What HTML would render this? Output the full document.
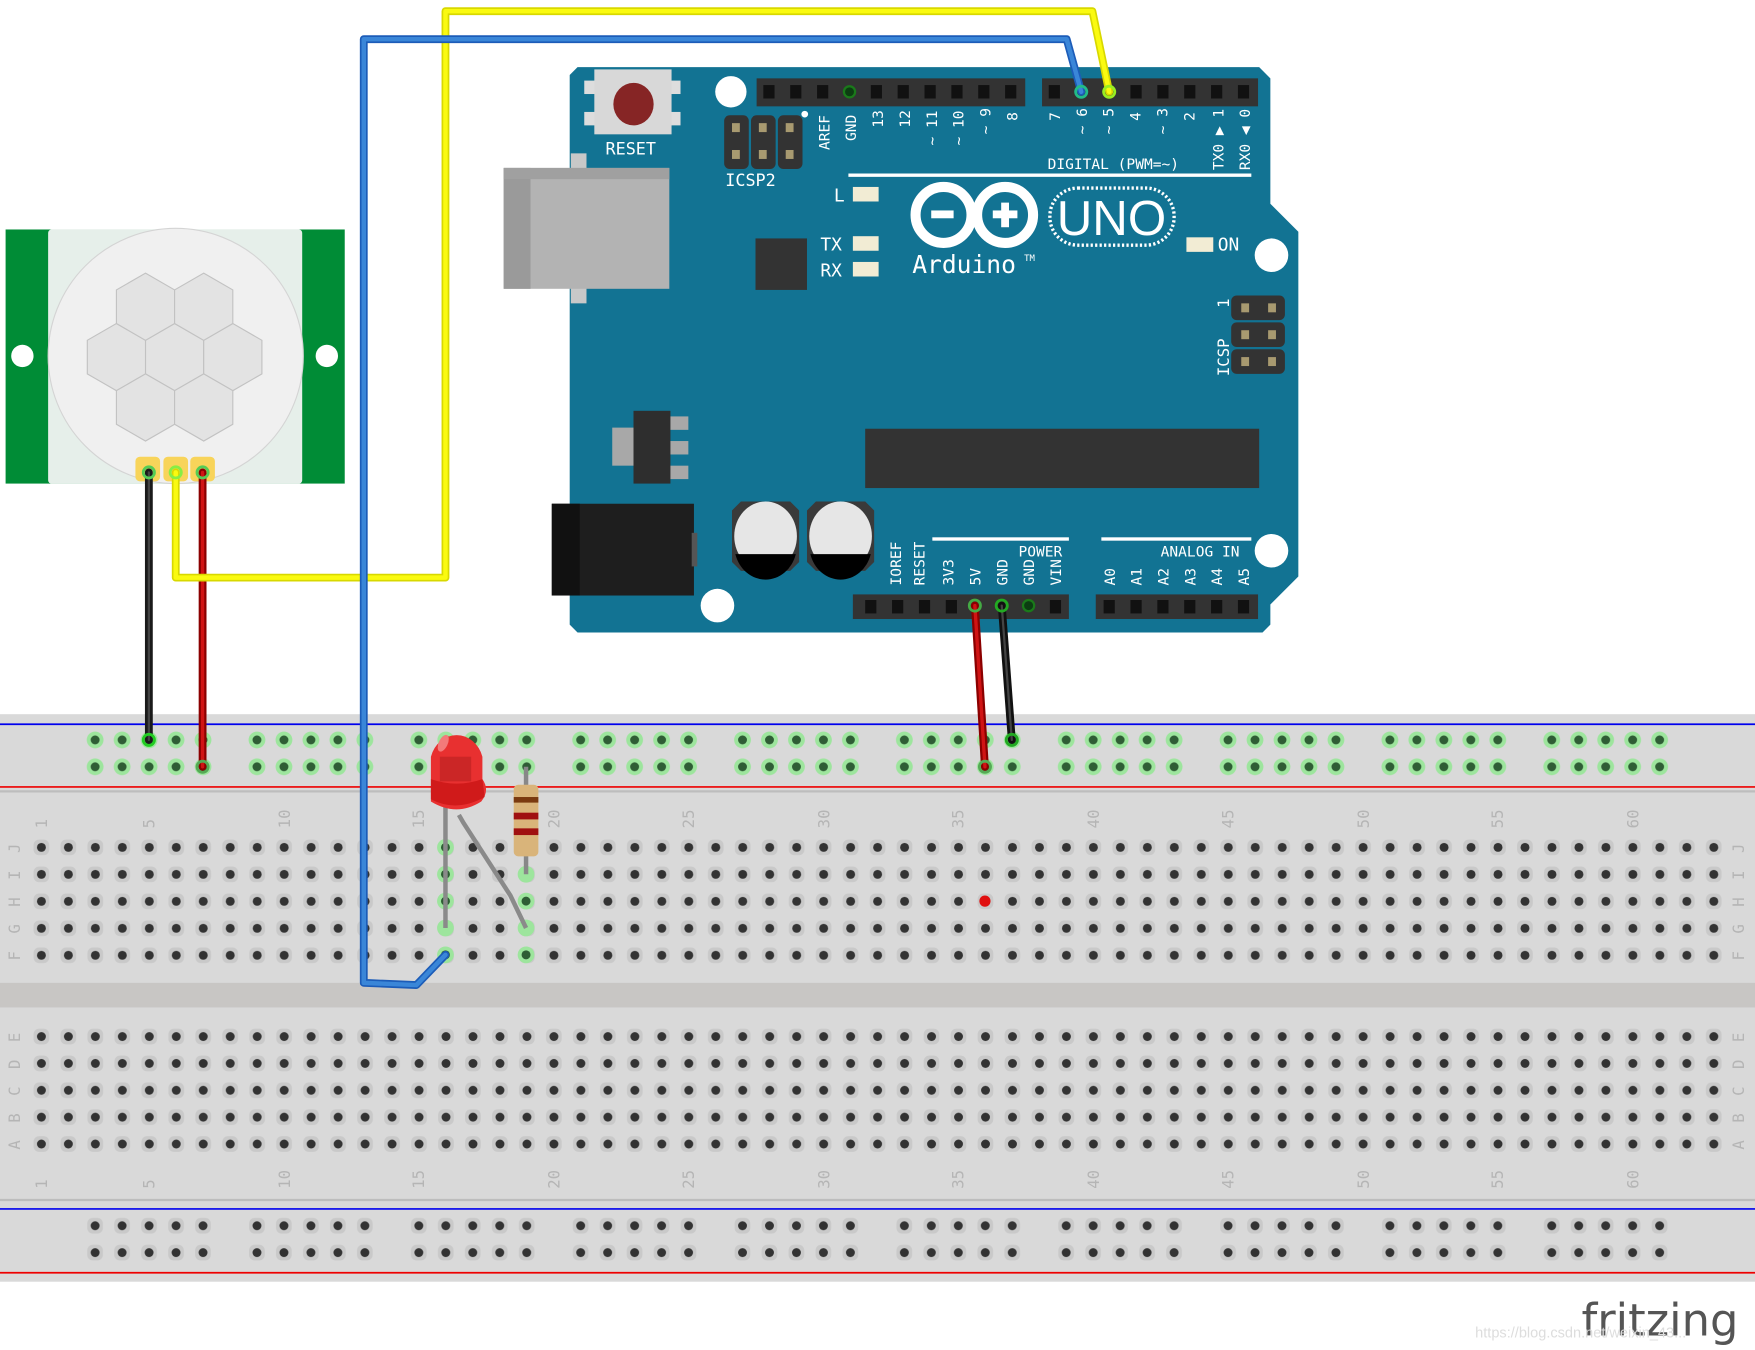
<!DOCTYPE html>
<html><head><meta charset="utf-8"><style>
html,body{margin:0;padding:0;background:#fff}
svg{display:block}
text{font-family:"DejaVu Sans Mono","Liberation Mono",monospace}
</style></head><body>
<svg width="1755" height="1350" viewBox="0 0 1568 1206" preserveAspectRatio="none" xmlns="http://www.w3.org/2000/svg">
<defs>
<pattern id="hole" patternUnits="userSpaceOnUse" x="24.95" y="745" width="24.1" height="24.1">
<rect x="5" y="5" width="14" height="14" rx="5" fill="#c9c9c9"/><circle cx="12.05" cy="12" r="4" fill="#333"/>
</pattern>
<pattern id="hole2" patternUnits="userSpaceOnUse" x="24.95" y="914" width="24.1" height="24">
<rect x="5" y="5" width="14" height="14" rx="5" fill="#c9c9c9"/><circle cx="12.05" cy="12" r="4" fill="#333"/>
</pattern>
<pattern id="railg" patternUnits="userSpaceOnUse" x="72.95" y="649" width="144.6" height="24">
<g fill="#9de59d"><circle cx="12.05" cy="12" r="7.5"/><circle cx="36.15" cy="12" r="7.5"/><circle cx="60.25" cy="12" r="7.5"/><circle cx="84.35" cy="12" r="7.5"/><circle cx="108.45" cy="12" r="7.5"/></g>
<g fill="#2f5d35"><circle cx="12.05" cy="12" r="4"/><circle cx="36.15" cy="12" r="4"/><circle cx="60.25" cy="12" r="4"/><circle cx="84.35" cy="12" r="4"/><circle cx="108.45" cy="12" r="4"/></g>
</pattern>
<pattern id="raild" patternUnits="userSpaceOnUse" x="72.95" y="1083" width="144.6" height="24">
<g fill="#c9c9c9"><rect x="5" y="5" width="14" height="14" rx="5"/><rect x="29.1" y="5" width="14" height="14" rx="5"/><rect x="53.2" y="5" width="14" height="14" rx="5"/><rect x="77.3" y="5" width="14" height="14" rx="5"/><rect x="101.4" y="5" width="14" height="14" rx="5"/></g>
<g fill="#333"><circle cx="12.05" cy="12" r="4"/><circle cx="36.15" cy="12" r="4"/><circle cx="60.25" cy="12" r="4"/><circle cx="84.35" cy="12" r="4"/><circle cx="108.45" cy="12" r="4"/></g>
</pattern>
</defs>

<rect x="0" y="638" width="1568" height="507" fill="#d9d9d9"/>
<rect x="0" y="878" width="1568" height="22" fill="#c8c6c4"/>
<line x1="0" y1="647" x2="1568" y2="647" stroke="#0000ee" stroke-width="1.5"/>
<line x1="0" y1="703" x2="1568" y2="703" stroke="#ee0000" stroke-width="1.5"/>
<line x1="0" y1="707" x2="1568" y2="707" stroke="#bdbdbd" stroke-width="2"/>
<line x1="0" y1="1072" x2="1568" y2="1072" stroke="#bdbdbd" stroke-width="2"/>
<line x1="0" y1="1080" x2="1568" y2="1080" stroke="#0000ee" stroke-width="1.5"/>
<line x1="0" y1="1137" x2="1568" y2="1137" stroke="#ee0000" stroke-width="1.5"/>
<rect x="25" y="745" width="1518" height="120" fill="url(#hole)"/>
<rect x="25" y="914" width="1518" height="120" fill="url(#hole2)"/>
<rect x="73" y="649" width="1446" height="48" fill="url(#railg)"/>
<rect x="73" y="1083" width="1446" height="48" fill="url(#raild)"/>
<g font-size="14" fill="#b5b5b5">
<g id="nums">
<text transform="translate(42,740) rotate(-90)">1</text>
<text transform="translate(138,740) rotate(-90)">5</text>
<text transform="translate(259,740) rotate(-90)">10</text>
<text transform="translate(379,740) rotate(-90)">15</text>
<text transform="translate(500,740) rotate(-90)">20</text>
<text transform="translate(620,740) rotate(-90)">25</text>
<text transform="translate(741,740) rotate(-90)">30</text>
<text transform="translate(861,740) rotate(-90)">35</text>
<text transform="translate(982,740) rotate(-90)">40</text>
<text transform="translate(1102,740) rotate(-90)">45</text>
<text transform="translate(1223,740) rotate(-90)">50</text>
<text transform="translate(1343,740) rotate(-90)">55</text>
<text transform="translate(1464,740) rotate(-90)">60</text>
</g>
<use href="#nums" y="322"/>
<g id="let1">
<text transform="translate(18,762) rotate(-90)">J</text>
<text transform="translate(18,786) rotate(-90)">I</text>
<text transform="translate(18,810) rotate(-90)">H</text>
<text transform="translate(18,834) rotate(-90)">G</text>
<text transform="translate(18,858) rotate(-90)">F</text>
<text transform="translate(18,931) rotate(-90)">E</text>
<text transform="translate(18,955) rotate(-90)">D</text>
<text transform="translate(18,979) rotate(-90)">C</text>
<text transform="translate(18,1003) rotate(-90)">B</text>
<text transform="translate(18,1027) rotate(-90)">A</text>
</g>
<use href="#let1" x="1540"/>
</g>
<g fill="#9de59d"><circle cx="398" cy="757" r="7.5"/><circle cx="398" cy="781" r="7.5"/><circle cx="398" cy="805" r="7.5"/><circle cx="398" cy="829" r="7.5"/><circle cx="398" cy="853" r="7.5"/><circle cx="470" cy="781" r="7.5"/><circle cx="470" cy="805" r="7.5"/><circle cx="470" cy="829" r="7.5"/><circle cx="470" cy="853" r="7.5"/></g>
<g fill="#2f5d35"><circle cx="398" cy="757" r="4"/><circle cx="398" cy="781" r="4"/><circle cx="398" cy="805" r="4"/><circle cx="398" cy="853" r="4"/><circle cx="470" cy="805" r="4"/><circle cx="470" cy="853" r="4"/></g>
<circle cx="880" cy="805" r="5" fill="#e01010"/>

<path d="M516,60 H1125 L1135,70 V182 L1160,207 V515 L1135,540 V558 L1128,565 H516 L509,558 V67 Z" fill="#127393"/>
<rect x="522" y="72" width="86" height="12" fill="#ddd"/><rect x="522" y="100" width="86" height="12" fill="#ddd"/>
<rect x="531" y="62" width="69" height="58" fill="#d8d8d8"/>
<ellipse cx="566" cy="93" rx="18" ry="19" fill="#862525"/>
<text x="541" y="138" font-size="15" fill="#fff">RESET</text>
<g fill="#fff"><circle cx="653" cy="82" r="14"/><circle cx="1136" cy="228" r="15"/><circle cx="1136" cy="492" r="15"/><circle cx="641" cy="541" r="15"/></g>
<rect x="676" y="70" width="240" height="25" fill="#333"/>
<rect x="931" y="70" width="193" height="25" fill="#333"/>
<g fill="#111">
<rect x="682" y="76" width="10" height="12"/><rect x="706" y="76" width="10" height="12"/><rect x="730" y="76" width="10" height="12"/><rect x="778" y="76" width="10" height="12"/><rect x="802" y="76" width="10" height="12"/><rect x="826" y="76" width="10" height="12"/><rect x="850" y="76" width="10" height="12"/><rect x="874" y="76" width="10" height="12"/><rect x="898" y="76" width="10" height="12"/>
<rect x="937" y="76" width="10" height="12"/><rect x="1010" y="76" width="10" height="12"/><rect x="1034" y="76" width="10" height="12"/><rect x="1058" y="76" width="10" height="12"/><rect x="1082" y="76" width="10" height="12"/><rect x="1106" y="76" width="10" height="12"/>
</g>
<circle cx="759" cy="82" r="5" fill="#0c3d12" stroke="#1a7a1a" stroke-width="2"/>
<rect x="647" y="103" width="22" height="48" rx="5" fill="#333"/><rect x="671" y="103" width="22" height="48" rx="5" fill="#333"/><rect x="695" y="103" width="22" height="48" rx="5" fill="#333"/>
<g fill="#a89a70"><rect x="654" y="110" width="7" height="8"/><rect x="678" y="110" width="7" height="8"/><rect x="702" y="110" width="7" height="8"/><rect x="654" y="134" width="7" height="8"/><rect x="678" y="134" width="7" height="8"/><rect x="702" y="134" width="7" height="8"/></g>
<circle cx="719" cy="102" r="3" fill="#fff"/>
<text x="648" y="166" font-size="15" fill="#fff">ICSP2</text>
<g font-size="13" fill="#fff">
<text transform="translate(741,134) rotate(-90)">AREF</text>
<text transform="translate(765,126) rotate(-90)">GND</text>
<text transform="translate(789,114) rotate(-90)">13</text>
<text transform="translate(813,114) rotate(-90)">12</text>
<text transform="translate(837,130) rotate(-90)">~ 11</text>
<text transform="translate(861,130) rotate(-90)">~ 10</text>
<text transform="translate(885,120) rotate(-90)">~ 9</text>
<text transform="translate(909,108) rotate(-90)">8</text>
<text transform="translate(947,108) rotate(-90)">7</text>
<text transform="translate(971,120) rotate(-90)">~ 6</text>
<text transform="translate(995,120) rotate(-90)">~ 5</text>
<text transform="translate(1019,108) rotate(-90)">4</text>
<text transform="translate(1043,120) rotate(-90)">~ 3</text>
<text transform="translate(1067,108) rotate(-90)">2</text>
<text transform="translate(1093,152) rotate(-90)">TX0 ▶ 1</text>
<text transform="translate(1117,152) rotate(-90)">RX0 ◀ 0</text>
</g>
<text x="936" y="151" font-size="13" fill="#fff">DIGITAL (PWM=~)</text>
<rect x="758" y="155" width="360" height="3" fill="#fff"/>
<rect x="510" y="137" width="14" height="134" fill="#c8c8c8"/>
<rect x="450" y="150" width="148" height="108" fill="#b3b3b3"/>
<rect x="450" y="150" width="24" height="108" fill="#9a9a9a"/>
<rect x="450" y="150" width="148" height="10" fill="#a0a0a0"/>
<rect x="675" y="213" width="46" height="46" fill="#333"/>
<g fill="#f2ecd4"><rect x="762" y="167" width="23" height="13"/><rect x="762" y="211" width="23" height="13"/><rect x="762" y="234" width="23" height="13"/><rect x="1060" y="212" width="24" height="13"/></g>
<g font-size="16" fill="#fff"><text x="745" y="180">L</text><text x="733" y="224">TX</text><text x="733" y="247">RX</text><text x="1088" y="224">ON</text></g>
<g stroke="#fff" stroke-width="9" fill="none"><circle cx="843" cy="192" r="25"/><circle cx="898" cy="192" r="25"/></g>
<rect x="832" y="188" width="20" height="7" fill="#fff"/>
<rect x="887" y="188" width="22" height="7" fill="#fff"/><rect x="894.5" y="181" width="7" height="22" fill="#fff"/>
<rect x="938" y="168" width="111" height="51" rx="25" fill="none" stroke="#fff" stroke-width="3" stroke-dasharray="2 2"/>
<text x="993" y="210" font-size="44" fill="#fff" text-anchor="middle" style="font-family:'Liberation Sans',sans-serif">UNO</text>
<text x="815" y="244" font-size="22" fill="#fff">Arduino</text><text x="915" y="233" font-size="8" fill="#fff">TM</text>
<rect x="1100" y="264" width="48" height="22" rx="5" fill="#333"/><rect x="1100" y="288" width="48" height="22" rx="5" fill="#333"/><rect x="1100" y="312" width="48" height="22" rx="5" fill="#333"/>
<g fill="#a89a70"><rect x="1109" y="271" width="7" height="8"/><rect x="1133" y="271" width="7" height="8"/><rect x="1109" y="295" width="7" height="8"/><rect x="1133" y="295" width="7" height="8"/><rect x="1109" y="319" width="7" height="8"/><rect x="1133" y="319" width="7" height="8"/></g>
<text transform="translate(1098,275) rotate(-90)" font-size="14" fill="#fff">1</text>
<text transform="translate(1098,336) rotate(-90)" font-size="14" fill="#fff">ICSP</text>
<rect x="547" y="382" width="20" height="34" fill="#a8a8a8"/>
<rect x="598" y="372" width="17" height="12" fill="#a8a8a8"/><rect x="598" y="394" width="17" height="12" fill="#a8a8a8"/><rect x="598" y="416" width="17" height="12" fill="#a8a8a8"/>
<rect x="566" y="367" width="33" height="65" fill="#2e2e2e"/>
<rect x="773" y="383" width="352" height="53" fill="#333"/>
<rect x="493" y="450" width="127" height="82" fill="#1e1e1e"/>
<rect x="493" y="450" width="25" height="82" fill="#111"/>
<rect x="618" y="476" width="5" height="30" fill="#555"/>
<g>
<path d="M662,448 H706 L714,456 V502 L706,510 H662 L654,502 V456 Z" fill="#3a3a3a"/>
<ellipse cx="684" cy="479" rx="28" ry="31" fill="#e6e6e6"/>
<path d="M657,495 H711 A28,31 0 0 1 657,495 Z" fill="#000"/>
<path d="M729,448 H773 L781,456 V502 L773,510 H729 L721,502 V456 Z" fill="#3a3a3a"/>
<ellipse cx="751" cy="479" rx="28" ry="31" fill="#e6e6e6"/>
<path d="M724,495 H778 A28,31 0 0 1 724,495 Z" fill="#000"/>
</g>
<rect x="762" y="531" width="193" height="22" fill="#333"/>
<rect x="979" y="531" width="145" height="22" fill="#333"/>
<g fill="#111">
<rect x="797" y="536" width="10" height="12"/><rect x="821" y="536" width="10" height="12"/><rect x="845" y="536" width="10" height="12"/><rect x="773" y="536" width="10" height="12"/><rect x="938" y="536" width="10" height="12"/>
<rect x="986" y="536" width="10" height="12"/><rect x="1010" y="536" width="10" height="12"/><rect x="1034" y="536" width="10" height="12"/><rect x="1058" y="536" width="10" height="12"/><rect x="1082" y="536" width="10" height="12"/><rect x="1106" y="536" width="10" height="12"/>
</g>
<circle cx="919" cy="541" r="5" fill="#0c3d12" stroke="#1a7a1a" stroke-width="2"/>
<rect x="833" y="480" width="122" height="3" fill="#fff"/><rect x="984" y="480" width="134" height="3" fill="#fff"/>
<g font-size="13" fill="#fff">
<text x="910" y="497">POWER</text><text x="1037" y="497">ANALOG IN</text>
<text transform="translate(805,523) rotate(-90)">IOREF</text>
<text transform="translate(826,523) rotate(-90)">RESET</text>
<text transform="translate(852,523) rotate(-90)">3V3</text>
<text transform="translate(876,523) rotate(-90)">5V</text>
<text transform="translate(900,523) rotate(-90)">GND</text>
<text transform="translate(924,523) rotate(-90)">GND</text>
<text transform="translate(948,523) rotate(-90)">VIN</text>
<text transform="translate(996,523) rotate(-90)">A0</text>
<text transform="translate(1020,523) rotate(-90)">A1</text>
<text transform="translate(1044,523) rotate(-90)">A2</text>
<text transform="translate(1068,523) rotate(-90)">A3</text>
<text transform="translate(1092,523) rotate(-90)">A4</text>
<text transform="translate(1116,523) rotate(-90)">A5</text>
</g>

<rect x="5" y="205" width="303" height="227" fill="#008c36"/>
<rect x="43" y="205" width="227" height="227" rx="3" fill="#e6efea"/>
<circle cx="157" cy="318" r="114" fill="#f0f0f0" stroke="#d4d4d4"/>
<g fill="#e3e3e3" stroke="#c2c2c2" stroke-width="1">
<polygon id="hx" points="156,289 182,304 182,334 156,349 130,334 130,304"/>
<use href="#hx" x="-52"/><use href="#hx" x="52"/>
<use href="#hx" x="-26" y="-45"/><use href="#hx" x="26" y="-45"/>
<use href="#hx" x="-26" y="45"/><use href="#hx" x="26" y="45"/>
</g>
<circle cx="20" cy="318" r="10" fill="#fff"/><circle cx="292" cy="318" r="10" fill="#fff"/>
<g fill="#f8d45a"><rect x="121" y="408" width="22" height="22" rx="4"/><rect x="146" y="408" width="22" height="22" rx="4"/><rect x="170" y="408" width="22" height="22" rx="4"/></g>

<g fill="none" stroke-linecap="round" stroke-linejoin="round">
<polyline points="133,422 133,661" stroke="#1a1a1a" stroke-width="7"/>
<polyline points="133,422 133,661" stroke="#444" stroke-width="2"/>
<polyline points="181,422 181,685" stroke="#8b0000" stroke-width="7"/>
<polyline points="181,422 181,685" stroke="#d01414" stroke-width="3"/>
<polyline points="157,422 157,516 398,516 398,10 976,10 991,82" stroke="#d8d800" stroke-width="7"/>
<polyline points="157,422 157,516 398,516 398,10 976,10 991,82" stroke="#fafa10" stroke-width="4"/>
<polyline points="966,82 953,35 325,35 325,878 372,880 398,853" stroke="#1c5cb8" stroke-width="7"/>
<polyline points="966,82 953,35 325,35 325,878 372,880 398,853" stroke="#3a86d8" stroke-width="4"/>
<polyline points="871,541 880,685" stroke="#8b0000" stroke-width="7"/>
<polyline points="871,541 880,685" stroke="#d01414" stroke-width="3"/>
<polyline points="895,541 904,661" stroke="#111" stroke-width="7"/>
<polyline points="895,541 904,661" stroke="#444" stroke-width="2"/>
</g>
<g fill="none" stroke-width="2.5">
<circle cx="133" cy="422" r="5" stroke="#5c5"/><circle cx="157" cy="422" r="5" stroke="#8e4"/><circle cx="181" cy="422" r="5" stroke="#5c5"/>
<circle cx="133" cy="661" r="5" stroke="#2c2"/><circle cx="181" cy="685" r="5" stroke="#5a5"/>
<circle cx="966" cy="82" r="5" stroke="#2b8"/><circle cx="991" cy="82" r="5" stroke="#9e2"/>
<circle cx="871" cy="541" r="5" stroke="#4a4"/><circle cx="895" cy="541" r="5" stroke="#2a2"/>
<circle cx="880" cy="685" r="5" stroke="#5a5"/><circle cx="904" cy="661" r="5" stroke="#2a2"/>
</g>

<line x1="470" y1="685" x2="470" y2="781" stroke="#888" stroke-width="4"/>
<rect x="459" y="701" width="22" height="64" rx="4" fill="#d9b47a"/>
<g fill="#a01010"><rect x="459" y="712" width="22" height="5" fill="#7a3a10"/><rect x="459" y="726" width="22" height="6"/><rect x="459" y="740" width="22" height="6"/></g>
<g stroke="#8a8a8a" stroke-width="4" fill="none"><line x1="398" y1="720" x2="398" y2="829"/><polyline points="410,728 414,735 456,800 470,829"/></g>
<path d="M385,700 V676 A24,27 0 0 1 431,676 V696 Q438,706 430,716 Q408,730 385,716 Z" fill="#e83030"/>
<path d="M385,696 Q408,704 431,696 L433,712 Q408,726 385,714 Z" fill="#d01a1a"/>
<rect x="393" y="676" width="28" height="22" fill="#b82020" opacity="0.6"/>
<ellipse cx="396" cy="664" rx="4" ry="8" fill="#f37a7a" transform="rotate(25 396 664)"/>

<text x="1413" y="1193" font-size="40" fill="#555" style="font-family:'DejaVu Sans',sans-serif">fritzing</text>
<text x="1318" y="1195" font-size="13" fill="#ddd" style="font-family:'Liberation Sans',sans-serif">https://blog.csdn.net/weixin_43...</text>
</svg>
</body></html>
